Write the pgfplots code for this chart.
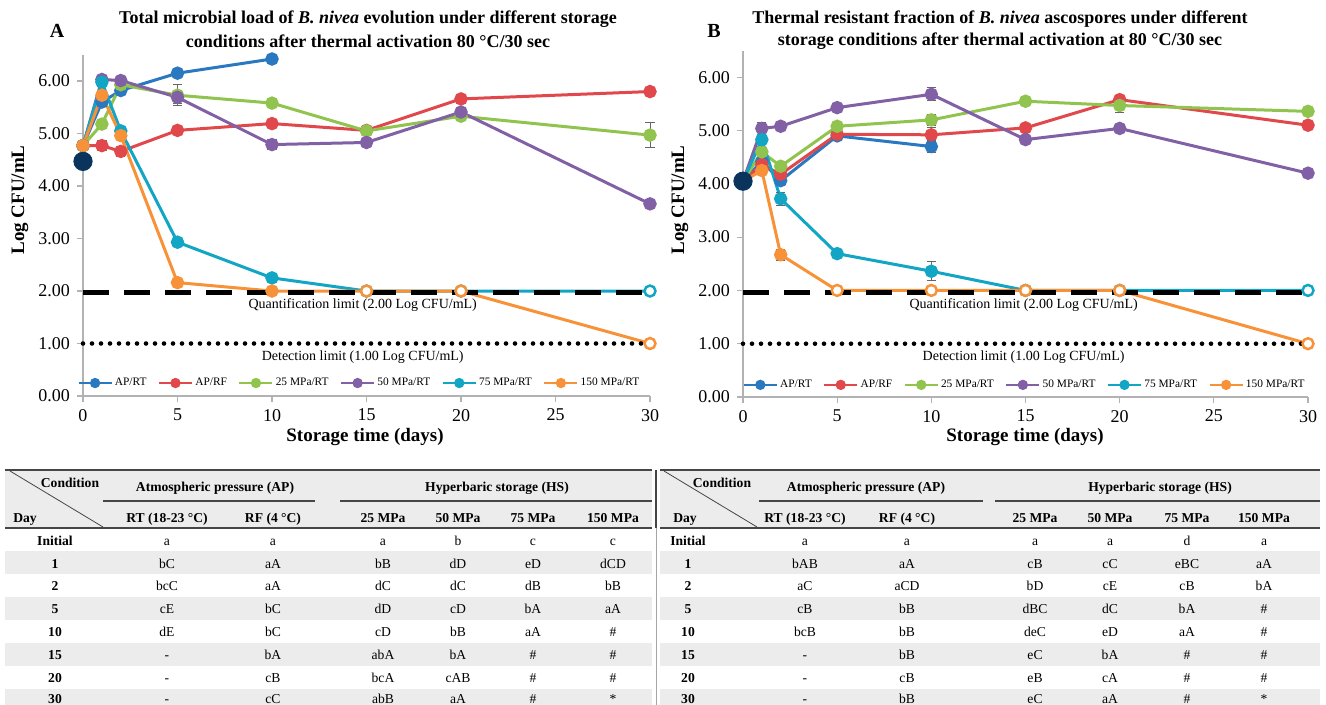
\documentclass[border=0pt]{standalone}
\usepackage{fontspec}
\setmainfont{Liberation Serif}
\usepackage{pgfplots}
\pgfplotsset{compat=1.18}
\definecolor{cRT}{RGB}{41,120,192}
\definecolor{cRF}{RGB}{224,72,76}
\definecolor{c25}{RGB}{145,196,79}
\definecolor{c50}{RGB}{129,96,165}
\definecolor{c75}{RGB}{18,165,196}
\definecolor{c150}{RGB}{248,146,56}
\definecolor{cini}{RGB}{10,52,92}
\definecolor{hdr}{RGB}{236,236,236}
\definecolor{rule}{RGB}{70,70,70}
\pgfplotsset{
  ser/.style={color=#1, line width=1.5pt, mark=*, mark size=2.6pt, mark options={solid}},
  opn/.style={only marks, mark=*, mark size=2.5pt, mark options={draw=#1, fill=white, line width=0.8pt}, forget plot},
  error bars/error bar style={line width=0.5pt, black!60},
  error bars/error mark options={rotate=90, mark size=2.3pt, line width=0.5pt, black!60},
  chartax/.style={
    scale only axis, anchor=south west,
    xmin=0, xmax=30, ymin=0, ymax=6.5,
    axis lines*=left, axis line style={draw=black!30, line width=0.6pt},
    xtick={0,5,...,30}, ytick={0,1,...,6},
    tick align=outside, major tick length=3pt,
    tick style={draw=black!30, line width=0.6pt},
    yticklabel style={/pgf/number format/.cd, fixed, fixed zerofill, precision=2, assume math mode=true},
    xticklabel style={/pgf/number format/assume math mode=true},
    tick label style={font=\fontsize{9}{10}\selectfont},
    clip=false,
    legend columns=6,
    legend image code/.code={\draw[mark repeat=2, mark phase=2, ##1, mark size=1.9pt, line width=1.3pt]
      plot coordinates {(0cm,0cm) (0.29cm,0cm) (0.58cm,0cm)};},
    legend style={draw=none, fill=none, font=\fontsize{5.7}{7}\selectfont, inner xsep=0pt,
      /tikz/every even column/.append style={column sep=3.6pt},
      /tikz/every odd column/.append style={column sep=-1pt}},
  },
}
\newcommand\trow[8]{%
  \node[tb] at (\cD,#1) {\textbf{#2}};
  \node[tb] at (\cA,#1) {#3};
  \node[tb] at (\cB,#1) {#4};
  \node[tb] at (\cC,#1) {#5};
  \node[tb] at (\cE,#1) {#6};
  \node[tb] at (\cF,#1) {#7};
  \node[tb] at (\cG,#1) {#8};
}
\begin{document}
\begin{tikzpicture}[x=0.5pt,y=-0.5pt,
  tb/.style={font=\fontsize{6.8}{8}\selectfont, inner sep=0pt, anchor=center, text height=1.45ex, text depth=0.35ex},
  tbb/.style={font=\fontsize{6.8}{8}\selectfont\bfseries, inner sep=0pt, anchor=center, text height=1.45ex, text depth=0.35ex},
  ttl/.style={font=\fontsize{9}{10}\selectfont\bfseries, inner sep=0pt},
  lab/.style={font=\fontsize{9.5}{10}\selectfont\bfseries, inner sep=0pt}]
\useasboundingbox (0,0) rectangle (1326,705);

% ---------------- Chart A ----------------
\begin{axis}[chartax, at={(41.5pt,-198pt)}, width=283.5pt, height=170.6pt,
  legend style={at={(0.489,0.038)}, anchor=center}]
\addplot[ser=cRT, error bars/.cd, y dir=both, y explicit] coordinates {
 (0,4.77) (1,5.60) +- (0,0.05) (2,5.82) +- (0,0.05) (5,6.15) +- (0,0.04) (10,6.42) +- (0,0.06)};
\addlegendentry{AP/RT}
\addplot[ser=cRF, error bars/.cd, y dir=both, y explicit] coordinates {
 (0,4.77) (1,4.77) +- (0,0.10) (2,4.66) +- (0,0.09) (5,5.06) +- (0,0.04) (10,5.19) +- (0,0.08)
 (15,5.06) +- (0,0.07) (20,5.66) +- (0,0.09) (30,5.80) +- (0,0.07)};
\addlegendentry{AP/RF}
\addplot[ser=c25, error bars/.cd, y dir=both, y explicit] coordinates {
 (0,4.77) (1,5.18) (2,5.93) (5,5.73) +- (0,0.20) (10,5.58) +- (0,0.05)
 (15,5.05) +- (0,0.08) (20,5.33) (30,4.97) +- (0,0.24)};
\addlegendentry{25 MPa/RT}
\addplot[ser=c50, error bars/.cd, y dir=both, y explicit] coordinates {
 (0,4.77) (1,6.03) (2,6.01) (5,5.69) +- (0,0.12) (10,4.79) +- (0,0.10)
 (15,4.83) +- (0,0.08) (20,5.41) (30,3.66)};
\addlegendentry{50 MPa/RT}
\addplot[ser=c75, error bars/.cd, y dir=both, y explicit] coordinates {
 (0,4.77) (1,5.98) +- (0,0.05) (2,5.05) (5,2.93) (10,2.25) +- (0,0.04)
 (15,2.00) (20,2.00) (30,2.00)};
\addlegendentry{75 MPa/RT}
\addplot[opn=c75] coordinates {(15,2.00) (20,2.00) (30,2.00)};
\addplot[ser=c150] coordinates {
 (0,4.77) (1,5.73) (2,4.96) (5,2.16) (10,2.00) (15,2.00) (20,2.00) (30,1.00)};
\addlegendentry{150 MPa/RT}
\addplot[black, line width=2.6pt, dash pattern=on 13pt off 7.5pt, forget plot] coordinates {(0,1.965) (30,1.965)};
\addplot[black, line width=2.3pt, line cap=round, dash pattern=on 0pt off 4.5pt, forget plot] coordinates {(0,1) (30,1)};
\addplot[opn=c150] coordinates {(15,2.00) (20,2.00) (30,1.00)};
\addplot[only marks, mark=*, mark size=4.6pt, color=cini, forget plot] coordinates {(0,4.47)};
\node[font=\fontsize{7}{8}\selectfont] at (axis cs:14.8,1.73) {Quantification limit (2.00 Log CFU/mL)};
\node[font=\fontsize{7}{8}\selectfont] at (axis cs:14.8,0.74) {Detection limit (1.00 Log CFU/mL)};
\end{axis}

% ---------------- Chart B ----------------
\begin{axis}[chartax, at={(371.5pt,-198.5pt)}, width=282.5pt, height=173.2pt,
  legend style={at={(0.50,0.035)}, anchor=center}]
\addplot[ser=cRT, error bars/.cd, y dir=both, y explicit] coordinates {
 (0,4.05) (1,4.42) (2,4.06) +- (0,0.05) (5,4.90) +- (0,0.06) (10,4.70) +- (0,0.12)};
\addlegendentry{AP/RT}
\addplot[ser=cRF, error bars/.cd, y dir=both, y explicit] coordinates {
 (0,4.05) (1,4.36) (2,4.18) (5,4.93) +- (0,0.05) (10,4.92) +- (0,0.13)
 (15,5.05) +- (0,0.07) (20,5.58) (30,5.10)};
\addlegendentry{AP/RF}
\addplot[ser=c25, error bars/.cd, y dir=both, y explicit] coordinates {
 (0,4.05) (1,4.60) (2,4.33) (5,5.08) (10,5.20) +- (0,0.10)
 (15,5.55) (20,5.47) +- (0,0.13) (30,5.36)};
\addlegendentry{25 MPa/RT}
\addplot[ser=c50, error bars/.cd, y dir=both, y explicit] coordinates {
 (0,4.05) (1,5.04) +- (0,0.11) (2,5.08) (5,5.43) +- (0,0.05) (10,5.68) +- (0,0.12)
 (15,4.83) (20,5.04) (30,4.20)};
\addlegendentry{50 MPa/RT}
\addplot[ser=c75, error bars/.cd, y dir=both, y explicit] coordinates {
 (0,4.05) (1,4.83) +- (0,0.05) (2,3.72) +- (0,0.12) (5,2.69) +- (0,0.06) (10,2.36) +- (0,0.18)
 (15,2.00) (20,2.00) (30,2.00)};
\addlegendentry{75 MPa/RT}
\addplot[opn=c75] coordinates {(15,2.00) (20,2.00) (30,2.00)};
\addplot[ser=c150, error bars/.cd, y dir=both, y explicit] coordinates {
 (0,4.05) (1,4.25) (2,2.67) +- (0,0.10) (5,2.00) (10,2.00) (15,2.00) (20,2.00) (30,1.00)};
\addlegendentry{150 MPa/RT}
\addplot[black, line width=2.6pt, dash pattern=on 13pt off 7.5pt, forget plot] coordinates {(0,1.965) (30,1.965)};
\addplot[black, line width=2.3pt, line cap=round, dash pattern=on 0pt off 4.5pt, forget plot] coordinates {(0,1) (30,1)};
\addplot[opn=c150] coordinates {(5,2.00) (10,2.00) (15,2.00) (20,2.00) (30,1.00)};
\addplot[only marks, mark=*, mark size=4.6pt, color=cini, forget plot] coordinates {(0,4.05)};
\node[font=\fontsize{7}{8}\selectfont] at (axis cs:14.9,1.73) {Quantification limit (2.00 Log CFU/mL)};
\node[font=\fontsize{7}{8}\selectfont] at (axis cs:14.9,0.75) {Detection limit (1.00 Log CFU/mL)};
\end{axis}

% titles and labels
\node[ttl] at (368,19) {Total microbial load of \textit{B. nivea} evolution under different storage};
\node[ttl] at (368,41) {conditions after thermal activation 80 °C/30 sec};
\node[ttl, font=\fontsize{10}{11}\selectfont\bfseries] at (57,31) {A};
\node[ttl] at (1000,19) {Thermal resistant fraction of \textit{B. nivea} ascospores under different};
\node[ttl] at (1000,41) {storage conditions after thermal activation at 80 °C/30 sec};
\node[ttl, font=\fontsize{10}{11}\selectfont\bfseries] at (714,31) {B};
\node[lab, rotate=90] at (20,200) {Log CFU/mL};
\node[lab, rotate=90] at (680,200) {Log CFU/mL};
\node[lab] at (365,437) {Storage time (days)};
\node[lab] at (1025,437) {Storage time (days)};

% ---------------- Tables ----------------
\fill[hdr] (5,470) rectangle (652,528);
\fill[hdr] (660,470) rectangle (1320,528);
\foreach \ya/\yb in {551/574, 597/620, 643/666, 689/712}{
  \fill[hdr] (5,\ya) rectangle (652,\yb);
  \fill[hdr] (660,\ya) rectangle (1320,\yb);
}
\draw[rule, line width=1pt] (5,470) -- (652,470);
\draw[rule, line width=1pt] (660,470) -- (1320,470);
\draw[rule, line width=0.8pt] (5,528) -- (652,528);
\draw[rule, line width=0.8pt] (660,528) -- (1320,528);
\draw[rule, line width=0.8pt] (103,501) -- (315,501);
\draw[rule, line width=0.8pt] (340,501) -- (652,501);
\draw[rule, line width=0.8pt] (759,501) -- (983,501);
\draw[rule, line width=0.8pt] (995,501) -- (1320,501);
\draw[rule, line width=0.4pt] (10,471) -- (103,527);
\draw[rule, line width=0.4pt] (664,471) -- (757,527);
\draw[rule, line width=0.8pt] (656,470) -- (656,528);
\draw[black!35, line width=0.4pt] (656,528) -- (656,705);

\node[tbb] at (70,482) {Condition};
\node[tbb] at (25,517) {Day};
\node[tbb] at (215,486) {Atmospheric pressure (AP)};
\node[tbb] at (497,486) {Hyperbaric storage (HS)};
\def\cD{55}\def\cA{167}\def\cB{273}\def\cC{383}\def\cE{458}\def\cF{533}\def\cG{613}
\node[tbb] at (\cA,517) {RT (18-23 °C)};
\node[tbb] at (\cB,517) {RF (4 °C)};
\node[tbb] at (\cC,517) {25 MPa};
\node[tbb] at (\cE,517) {50 MPa};
\node[tbb] at (\cF,517) {75 MPa};
\node[tbb] at (\cG,517) {150 MPa};
\trow{540}{Initial}{a}{a}{a}{b}{c}{c}
\trow{563}{1}{bC}{aA}{bB}{dD}{eD}{dCD}
\trow{585}{2}{bcC}{aA}{dC}{dC}{dB}{bB}
\trow{608}{5}{cE}{bC}{dD}{cD}{bA}{aA}
\trow{631}{10}{dE}{bC}{cD}{bB}{aA}{\#}
\trow{654}{15}{-}{bA}{abA}{bA}{\#}{\#}
\trow{677}{20}{-}{cB}{bcA}{cAB}{\#}{\#}
\trow{698}{30}{-}{cC}{abB}{aA}{\#}{*}

\node[tbb] at (722,482) {Condition};
\node[tbb] at (685,517) {Day};
\node[tbb] at (866,486) {Atmospheric pressure (AP)};
\node[tbb] at (1160,486) {Hyperbaric storage (HS)};
\def\cD{688}\def\cA{805}\def\cB{907}\def\cC{1035}\def\cE{1110}\def\cF{1187}\def\cG{1264}
\node[tbb] at (\cA,517) {RT (18-23 °C)};
\node[tbb] at (\cB,517) {RF (4 °C)};
\node[tbb] at (\cC,517) {25 MPa};
\node[tbb] at (\cE,517) {50 MPa};
\node[tbb] at (\cF,517) {75 MPa};
\node[tbb] at (\cG,517) {150 MPa};
\trow{540}{Initial}{a}{a}{a}{a}{d}{a}
\trow{563}{1}{bAB}{aA}{cB}{cC}{eBC}{aA}
\trow{585}{2}{aC}{aCD}{bD}{cE}{cB}{bA}
\trow{608}{5}{cB}{bB}{dBC}{dC}{bA}{\#}
\trow{631}{10}{bcB}{bB}{deC}{eD}{aA}{\#}
\trow{654}{15}{-}{bB}{eC}{bA}{\#}{\#}
\trow{677}{20}{-}{cB}{eB}{cA}{\#}{\#}
\trow{698}{30}{-}{bB}{eC}{aA}{\#}{*}
\end{tikzpicture}
\end{document}
